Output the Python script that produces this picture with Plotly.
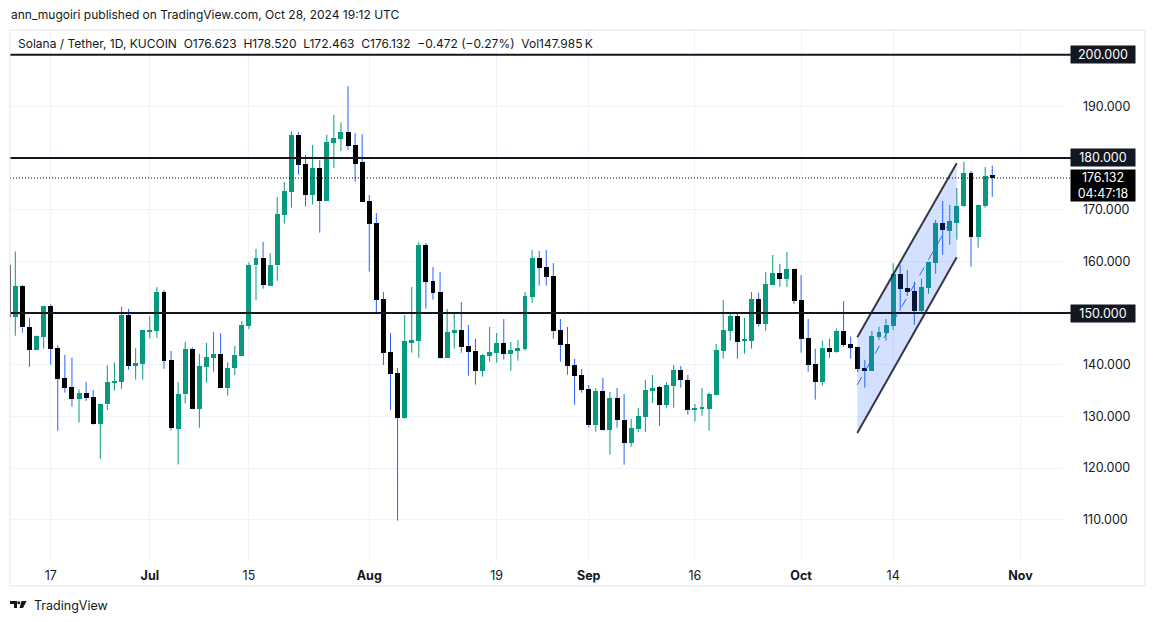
import plotly.graph_objects as go
import pandas as pd

# ---------------- data ----------------
start_date = "2024-06-11"
end_date = "2024-10-28"
dates = list(pd.date_range(start_date, end_date, freq="D"))

opens = [159.2, 149.3, 155.2, 147.3, 142.9, 145.4, 151.35, 143.2, 137.4, 135.7,
         133.4, 134.5, 133.7, 128.6, 132.3, 136.5, 136.7, 149.6, 139.8, 140.2,
         146.5, 146.6, 154.1, 140.9, 127.6, 134.26, 143.0, 131.5, 139.6, 141.35,
         142.1, 135.55, 139.4, 141.75, 147.55, 159.2, 160.65, 155.3, 159.2, 169.0,
         173.5, 184.45, 178.85, 172.9, 178.0, 171.7, 182.97, 183.7, 185.03, 182.5,
         179.16, 171.68, 167.35, 152.7, 142.45, 138.39, 129.74, 144.26, 144.65, 163.16,
         156.19, 154.06, 141.35, 146.19, 146.71, 143.61, 142.65, 138.84, 141.74, 142.32,
         144.19, 142.13, 142.71, 143.1, 153.16, 160.65, 158.9, 157.16, 146.71, 144.0,
         139.94, 138.0, 135.29, 128.39, 134.9, 127.42, 133.55, 129.29, 124.9, 127.55,
         129.94, 134.97, 135.68, 132.26, 135.94, 138.97, 137.03, 131.29, 131.48, 131.48,
         134.13, 142.71, 146.58, 149.42, 144.65, 144.65, 152.71, 147.94, 155.48, 157.74,
         156.58, 158.52, 152.52, 145.16, 140.19, 136.71, 143.29, 142.52, 146.52, 144.0,
         143.42, 139.35, 138.84, 145.42, 146.19, 147.55, 157.55, 154.84, 154.26, 150.45,
         154.9, 159.74, 167.42, 165.94, 167.48, 170.77, 177.1, 164.77, 170.77, 176.623]
highs = [160.5, 161.9, 155.4, 149.0, 145.7, 151.4, 151.7, 143.8, 141.9, 141.35,
         135.2, 136.65, 135.1, 132.5, 139.9, 140.4, 151.2, 150.8, 143.2, 146.7,
         149.4, 155.0, 154.45, 142.65, 136.65, 144.45, 143.35, 142.1, 144.2, 146.3,
         146.1, 140.5, 143.6, 148.45, 159.8, 162.4, 163.75, 161.6, 172.45, 175.35,
         185.2, 185.0, 180.6, 182.5, 179.6, 184.5, 188.3, 186.9, 193.9, 184.8,
         184.6, 172.84, 169.35, 154.06, 146.13, 139.35, 149.61, 155.03, 163.74, 163.55,
         158.9, 157.94, 150.77, 149.87, 152.13, 147.68, 144.97, 142.06, 147.29, 146.13,
         148.84, 144.39, 144.77, 154.06, 162.19, 162.0, 162.19, 159.68, 148.84, 147.29,
         141.1, 139.16, 136.06, 135.48, 137.42, 134.71, 135.48, 134.32, 129.48, 131.61,
         137.03, 138.0, 135.87, 136.65, 139.94, 139.74, 138.0, 132.39, 135.48, 134.6,
         144.0, 152.52, 150.0, 150.0, 149.03, 154.06, 153.87, 157.94, 161.23, 159.48,
         161.81, 158.6, 157.35, 148.84, 143.1, 144.65, 145.03, 146.97, 152.32, 145.42,
         143.5, 140.9, 146.52, 147.35, 148.84, 159.61, 159.29, 158.32, 156.06, 156.65,
         159.9, 168.0, 171.68, 170.9, 174.19, 179.23, 177.48, 170.95, 178.26, 178.52]
lows = [149.0, 145.6, 146.2, 139.6, 142.8, 143.1, 140.0, 127.2, 134.6, 131.9,
        128.8, 133.0, 128.4, 121.8, 131.2, 135.0, 135.35, 139.0, 137.1, 137.1,
        145.1, 145.2, 139.2, 127.3, 120.7, 132.5, 131.35, 127.8, 136.5, 138.65,
        135.5, 134.0, 138.0, 141.7, 146.9, 152.5, 154.7, 155.25, 156.25, 167.3,
        170.4, 176.8, 170.6, 171.0, 165.55, 171.65, 178.1, 181.35, 181.55, 175.4,
        171.5, 158.0, 150.06, 139.94, 131.23, 109.81, 129.55, 142.32, 141.35, 150.84,
        152.58, 141.16, 141.3, 143.1, 142.32, 137.87, 136.13, 137.68, 140.58, 140.39,
        140.97, 138.84, 140.77, 142.71, 152.0, 155.29, 155.29, 145.03, 140.58, 138.06,
        132.26, 134.58, 127.81, 127.03, 127.23, 122.58, 127.81, 120.65, 124.13, 126.97,
        126.97, 132.58, 128.19, 131.68, 131.68, 135.55, 130.32, 128.97, 130.13, 127.23,
        134.1, 141.16, 144.65, 141.16, 142.13, 143.1, 147.35, 146.58, 155.35, 155.1,
        155.03, 151.74, 142.32, 138.65, 133.23, 135.94, 141.29, 142.32, 143.48, 141.16,
        138.58, 135.55, 138.8, 144.77, 144.65, 146.71, 150.45, 153.29, 147.74, 149.81,
        153.74, 157.61, 161.29, 163.23, 164.19, 170.58, 158.97, 162.65, 170.39, 172.463]
closes = [149.3, 155.2, 147.2, 142.9, 145.6, 151.35, 143.1, 137.3, 135.55, 133.4,
          134.5, 133.6, 128.6, 132.4, 136.65, 136.85, 149.6, 139.8, 140.3, 146.7,
          146.7, 154.1, 140.8, 127.8, 134.3, 143.0, 131.5, 139.7, 141.5, 142.1,
          135.55, 139.35, 141.9, 147.7, 159.3, 160.65, 155.5, 159.3, 169.15, 173.6,
          184.45, 178.7, 172.9, 178.05, 171.7, 183.05, 183.9, 185.03, 182.4, 178.9,
          171.55, 167.3, 152.58, 142.32, 138.26, 129.74, 144.58, 144.77, 163.16, 156.06,
          153.94, 141.35, 146.32, 146.71, 143.48, 142.52, 138.84, 141.87, 142.45, 144.19,
          142.13, 142.84, 143.23, 153.29, 160.65, 158.77, 157.03, 146.58, 143.87, 139.81,
          137.87, 135.16, 128.39, 134.9, 127.42, 133.55, 129.35, 124.9, 127.74, 130.06,
          135.1, 135.48, 132.26, 136.06, 138.97, 137.1, 131.29, 131.42, 131.61, 134.32,
          142.84, 146.71, 149.42, 144.45, 144.84, 152.71, 147.94, 155.61, 157.74, 156.58,
          158.52, 152.32, 145.03, 140.0, 136.71, 143.29, 142.52, 146.58, 143.81, 143.29,
          139.23, 138.84, 145.55, 146.32, 147.74, 157.55, 154.71, 154.13, 150.45, 155.03,
          159.87, 167.42, 166.06, 167.81, 170.71, 177.1, 164.77, 170.9, 176.52, 176.132]

level_lines = [200, 180, 150]
last_price = 176.132
last_price_label = "176.132"
countdown_label = "04:47:18"

# ascending channel drawing (dates, prices)
channel_dates = ["2024-10-08 22:30", "2024-10-22 23:30"]
channel_upper = [145.3, 179.0]
channel_lower = [126.8, 160.8]
channel_mid = [136.1, 169.9]

x_tick_dates = ["2024-06-17", "2024-07-01", "2024-07-15", "2024-08-01", "2024-08-19",
                "2024-09-01", "2024-09-16", "2024-10-01", "2024-10-14", "2024-11-01"]
x_tick_text = ["17", "<b>Jul</b>", "15", "<b>Aug</b>", "19", "<b>Sep</b>", "16",
               "<b>Oct</b>", "14", "<b>Nov</b>"]
y_tick_vals = [110, 120, 130, 140, 160, 170, 190]
y_tick_text = ["110.000", "120.000", "130.000", "140.000", "160.000", "170.000", "190.000"]

header_text = "ann_mugoiri published on TradingView.com, Oct 28, 2024 19:12 UTC"
legend_text = ("Solana / Tether, 1D, KUCOIN  O176.623  H178.520  L172.463  "
               "C176.132  \u22120.472 (\u22120.27%)  Vol147.985\u2009K")

# ---------------- styling ----------------
UP = "#089981"
DOWN_BODY = "#000000"
DOWN_WICK = "#2962ff"
INK = "#131722"
GRID = "#f0f3fa"
FONT = "Inter"

W, H = 1154, 622
ML, MR, MT, MB = 10, 92, 30, 62
PW = W - ML - MR
PH = H - MT - MB


def px_x(x):
    return (x - ML) / PW


def px_y(y):
    return (H - MB - y) / PH


# wicks are split into the part above and below the body so they never cross it
up_wx, up_wy, dn_wx, dn_wy = [], [], [], []
body_base, body_h, body_col = [], [], []
for d, o, h, l, c in zip(dates, opens, highs, lows, closes):
    top, bot = max(o, c), min(o, c)
    seg_x = [d, d, None, d, d, None]
    seg_y = [top, h, None, l, bot, None]
    if c >= o:
        up_wx += seg_x
        up_wy += seg_y
        body_col.append(UP)
    else:
        dn_wx += seg_x
        dn_wy += seg_y
        body_col.append(DOWN_BODY)
    body_base.append(bot)
    body_h.append(max(top - bot, 0.2))

fig = go.Figure()
fig.add_trace(go.Bar(x=dates, y=body_h, base=body_base, width=0.7 * 86400000,
                     marker=dict(color=body_col, line=dict(width=0)), hoverinfo="skip"))
fig.add_trace(go.Scatter(x=up_wx, y=up_wy, mode="lines",
                         line=dict(color=UP, width=1), hoverinfo="skip"))
fig.add_trace(go.Scatter(x=dn_wx, y=dn_wy, mode="lines",
                         line=dict(color=DOWN_WICK, width=1), hoverinfo="skip"))

# channel drawing
cd0, cd1 = channel_dates
fig.add_trace(go.Scatter(x=[cd0, cd1, cd1, cd0, cd0],
                         y=[channel_upper[0], channel_upper[1], channel_lower[1],
                            channel_lower[0], channel_upper[0]],
                         mode="lines", fill="toself", fillcolor="rgba(41,98,255,0.2)",
                         line=dict(width=0), hoverinfo="skip"))
fig.add_trace(go.Scatter(x=[cd0, cd1], y=channel_mid, mode="lines",
                         line=dict(color=DOWN_WICK, width=1, dash="dash"), hoverinfo="skip"))
fig.add_trace(go.Scatter(x=[cd0, cd1], y=channel_upper, mode="lines",
                         line=dict(color="rgba(19,23,34,0.85)", width=2), hoverinfo="skip"))
fig.add_trace(go.Scatter(x=[cd0, cd1], y=channel_lower, mode="lines",
                         line=dict(color="rgba(19,23,34,0.85)", width=2), hoverinfo="skip"))

shapes = []
# horizontal levels
for lv in level_lines:
    shapes.append(dict(type="line", xref="paper", yref="y", layer="above",
                       x0=0, x1=px_x(1071), y0=lv, y1=lv,
                       line=dict(color=INK, width=2)))
# last price dotted line
shapes.append(dict(type="line", xref="paper", yref="y", layer="above",
                   x0=0, x1=px_x(1071), y0=last_price, y1=last_price,
                   line=dict(color="#000000", width=1, dash="1px,2px")))
# pane border
shapes.append(dict(type="rect", xref="paper", yref="paper", layer="above",
                   x0=0, x1=px_x(1145), y0=px_y(586), y1=1,
                   line=dict(color="#e0e3eb", width=1), fillcolor="rgba(0,0,0,0)"))
# TradingView logo glyph
logo_path = (f"M {px_x(10)},{px_y(601)} L {px_x(17)},{px_y(601)} L {px_x(17)},{px_y(608)} "
             f"L {px_x(14)},{px_y(608)} L {px_x(14)},{px_y(604)} L {px_x(10)},{px_y(604)} Z "
             f"M {px_x(21.5)},{px_y(601)} L {px_x(26.5)},{px_y(601)} L {px_x(23)},{px_y(608)} "
             f"L {px_x(19.5)},{px_y(608)} Z")
shapes.append(dict(type="path", xref="paper", yref="paper", path=logo_path,
                   fillcolor=INK, line=dict(width=0)))
shapes.append(dict(type="circle", xref="paper", yref="paper",
                   x0=px_x(17.3), x1=px_x(20.3), y0=px_y(604.3), y1=px_y(601.3),
                   fillcolor=INK, line=dict(width=0)))

annotations = []
annotations.append(dict(text=header_text, xref="paper", yref="paper",
                        x=px_x(9), y=px_y(15), xanchor="left", yanchor="middle",
                        showarrow=False, font=dict(family=FONT, size=12, color=INK)))
annotations.append(dict(text=legend_text, xref="paper", yref="paper",
                        x=px_x(16), y=px_y(43), xanchor="left", yanchor="middle",
                        showarrow=False, font=dict(family=FONT, size=12, color=INK)))
annotations.append(dict(text="TradingView", xref="paper", yref="paper",
                        x=px_x(32), y=px_y(605), xanchor="left", yanchor="middle",
                        showarrow=False, font=dict(family=FONT, size=12.5, color=INK)))
for lv in level_lines:
    annotations.append(dict(text=f"{lv:.3f}", xref="paper", yref="y",
                            x=px_x(1070), y=lv, xanchor="left", yanchor="middle",
                            showarrow=False, bgcolor=INK, borderpad=1,
                            width=62, height=15, align="center",
                            font=dict(family=FONT, size=12.5, color="#ffffff")))
annotations.append(dict(text=f"{last_price_label}<br>{countdown_label}",
                        xref="paper", yref="paper", x=px_x(1070), y=px_y(169),
                        xanchor="left", yanchor="top", showarrow=False,
                        bgcolor="#000000", borderpad=1, width=62, height=29,
                        align="center",
                        font=dict(family=FONT, size=12.5, color="#ffffff")))

fig.update_layout(
    width=W, height=H,
    margin=dict(l=ML, r=MR, t=MT, b=MB),
    paper_bgcolor="#ffffff", plot_bgcolor="#ffffff",
    showlegend=False, bargap=0,
    shapes=shapes, annotations=annotations,
    xaxis=dict(type="date", range=["2024-06-11 06:00", "2024-11-06 20:30"],
               tickvals=x_tick_dates, ticktext=x_tick_text,
               showgrid=True, gridcolor=GRID, gridwidth=1,
               zeroline=False, showline=False, ticks="",
               ticklabelstandoff=6, automargin=False,
               tickfont=dict(family=FONT, size=12.5, color=INK)),
    yaxis=dict(range=[102.2, 204.77], side="right",
               tickvals=y_tick_vals, ticktext=y_tick_text,
               showgrid=True, gridcolor=GRID, gridwidth=1,
               zeroline=False, showline=False, ticks="",
               ticklabelstandoff=20, automargin=False,
               tickfont=dict(family=FONT, size=12.5, color=INK)),
)

fig.write_html("out.html")
